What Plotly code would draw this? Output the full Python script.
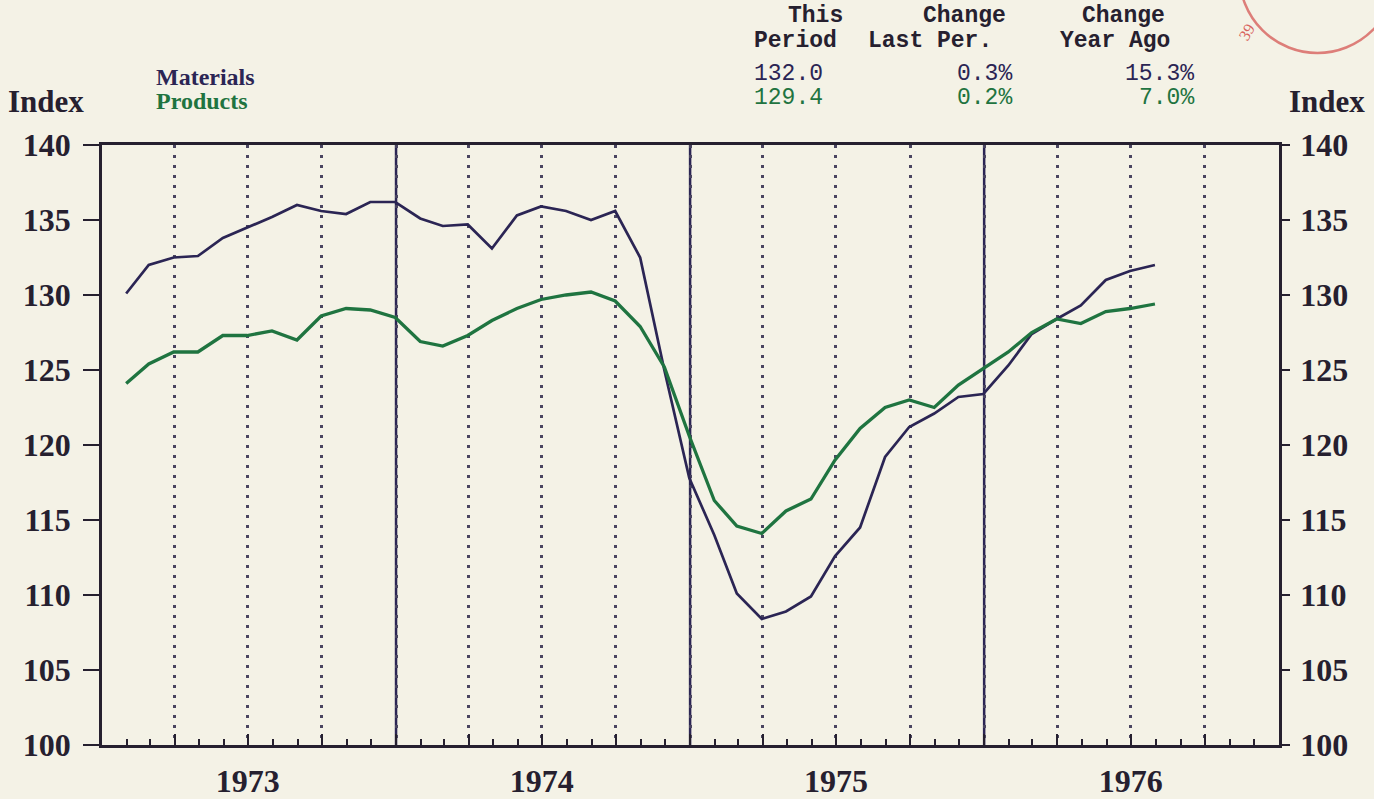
import plotly.graph_objects as go
import pandas as pd

# ---------------- data (monthly, Jan 1973 - Jul 1976) ----------------
materials = [130.1, 132.0, 132.5, 132.6, 133.8, 134.5, 135.2, 136.0, 135.6, 135.4, 136.2, 136.2,
             135.1, 134.6, 134.7, 133.1, 135.3, 135.9, 135.6, 135.0, 135.6, 132.5, 125.0, 117.8,
             114.0, 110.1, 108.4, 108.9, 109.9, 112.6, 114.5, 119.2, 121.2, 122.1, 123.2, 123.4,
             125.3, 127.4, 128.4, 129.3, 131.0, 131.6, 132.0]
products = [124.1, 125.4, 126.2, 126.2, 127.3, 127.3, 127.6, 127.0, 128.6, 129.1, 129.0, 128.5,
            126.9, 126.6, 127.3, 128.3, 129.1, 129.7, 130.0, 130.2, 129.6, 127.9, 125.2, 120.6,
            116.3, 114.6, 114.1, 115.6, 116.4, 119.0, 121.1, 122.5, 123.0, 122.5, 124.0, 125.1,
            126.2, 127.5, 128.4, 128.1, 128.9, 129.1, 129.4]
# each monthly value is plotted at the end of its month
months = pd.date_range("1973-01-01", periods=len(materials), freq="MS") + pd.offsets.MonthEnd(0)

series_names = ["Materials", "Products"]
this_period = ["132.0", "129.4"]
change_last = ["0.3%", "0.2%"]
change_year = ["15.3%", "7.0%"]

years = ["1973", "1974", "1975", "1976"]
y_ticks = [100, 105, 110, 115, 120, 125, 130, 135, 140]

# ---------------- style ----------------
BG = "#f4f2e6"
NAVY = "#2b2554"
GREEN = "#1f7440"
INK = "#26202f"
GRID = "#4a4560"
STAMP = "#d8625e"
SERIF = "Liberation Serif"
MONO = "Liberation Mono"

W, H = 1374, 799
L, R, T, B = 102, 94.5, 145, 54
PW, PH = W - L - R, H - T - B


def px(x):
    return (x - L) / PW


def py(y):
    return (H - B - y) / PH


quarters = pd.date_range("1973-04-01", "1976-10-01", freq="QS")
tickvals = list(quarters)
ticktext = [str(d.year) if d.month == 7 else "" for d in quarters]
year_starts = pd.date_range("1974-01-01", "1976-01-01", freq="YS")

fig = go.Figure()
fig.add_trace(go.Scatter(x=months, y=materials, mode="lines", name=series_names[0],
                         line=dict(color=NAVY, width=2.7), yaxis="y"))
fig.add_trace(go.Scatter(x=months, y=products, mode="lines", name=series_names[1],
                         line=dict(color=GREEN, width=3.3), yaxis="y2"))

shapes = []
for d in year_starts:
    shapes.append(dict(type="line", xref="x", yref="paper", x0=d, x1=d, y0=0, y1=1,
                       line=dict(color=NAVY, width=2.5), layer="below"))
# rubber stamp remnant, top right
shapes.append(dict(type="circle", xref="paper", yref="paper",
                   x0=px(1240), x1=px(1396), y0=py(53), y1=py(-103),
                   line=dict(color=STAMP, width=2.5), opacity=0.8))

axis_font = dict(family=SERIF, size=32, color=INK, weight="bold")

fig.update_layout(
    width=W, height=H,
    paper_bgcolor=BG, plot_bgcolor=BG,
    margin=dict(l=L, r=R, t=T, b=B, pad=0, autoexpand=False),
    showlegend=False,
    xaxis=dict(
        type="date", range=["1973-01-01", "1977-01-01"], automargin=False,
        tickmode="array", tickvals=tickvals, ticktext=ticktext,
        ticks="inside", ticklen=11, tickwidth=2, tickcolor=INK,
        tickfont=axis_font, ticklabelstandoff=6,
        showgrid=True, griddash="3px,7px", gridcolor=GRID, gridwidth=3,
        showline=True, linecolor=INK, linewidth=2.5, mirror=True,
        minor=dict(dtick="M1", tick0="1973-01-01", ticks="inside", ticklen=6,
                   tickwidth=2, tickcolor=INK, showgrid=False),
        zeroline=False,
    ),
    yaxis=dict(
        range=[100, 140], tickmode="array", tickvals=y_ticks, automargin=False,
        ticks="outside", ticklen=16, tickwidth=2, tickcolor=INK,
        tickfont=axis_font, ticklabelstandoff=6,
        showgrid=False, showline=True, linecolor=INK, linewidth=2.5, zeroline=False,
    ),
    yaxis2=dict(
        range=[100, 140], tickmode="array", tickvals=y_ticks, overlaying="y", side="right",
        automargin=False,
        ticks="outside", ticklen=8, tickwidth=2, tickcolor=INK,
        tickfont=axis_font, ticklabelstandoff=4,
        showgrid=False, showline=True, linecolor=INK, linewidth=2.5, zeroline=False,
    ),
    shapes=shapes,
)

ann = []


def add_text(text, x, y, anchor, font):
    ann.append(dict(text=text, xref="paper", yref="paper", x=px(x), y=py(y),
                    xanchor=anchor, yanchor="middle", showarrow=False, font=font))


label_font = dict(family=SERIF, size=31, color=INK, weight="bold")
add_text("Index", 6, 101, "left", label_font)
add_text("Index", 1368, 101, "right", label_font)
add_text(series_names[0], 154, 77, "left", dict(family=SERIF, size=24, color=NAVY, weight="bold"))
add_text(series_names[1], 154, 101, "left", dict(family=SERIF, size=24, color=GREEN, weight="bold"))

hdr = dict(family=MONO, size=23, color=INK, weight="bold")
add_text("This", 786, 16, "left", hdr)
add_text("Period", 752, 41, "left", hdr)
add_text("Change", 921, 16, "left", hdr)
add_text("Last Per.", 866, 41, "left", hdr)
add_text("Change", 1080, 16, "left", hdr)
add_text("Year Ago", 1058, 41, "left", hdr)

row_colors = [NAVY, GREEN]
row_y = [74, 98]
for i in range(2):
    f = dict(family=MONO, size=23, color=row_colors[i])
    add_text(this_period[i], 752, row_y[i], "left", f)
    add_text(change_last[i], 1014, row_y[i], "right", f)
    add_text(change_year[i], 1196, row_y[i], "right", f)

ann.append(dict(text="39", xref="paper", yref="paper", x=px(1262), y=py(18), showarrow=False,
                textangle=-60, font=dict(family=SERIF, size=16, color=STAMP)))
fig.update_layout(annotations=ann)

fig.write_html("out.html", config={"displayModeBar": False},
               post_script="document.body.style.margin='0';")
